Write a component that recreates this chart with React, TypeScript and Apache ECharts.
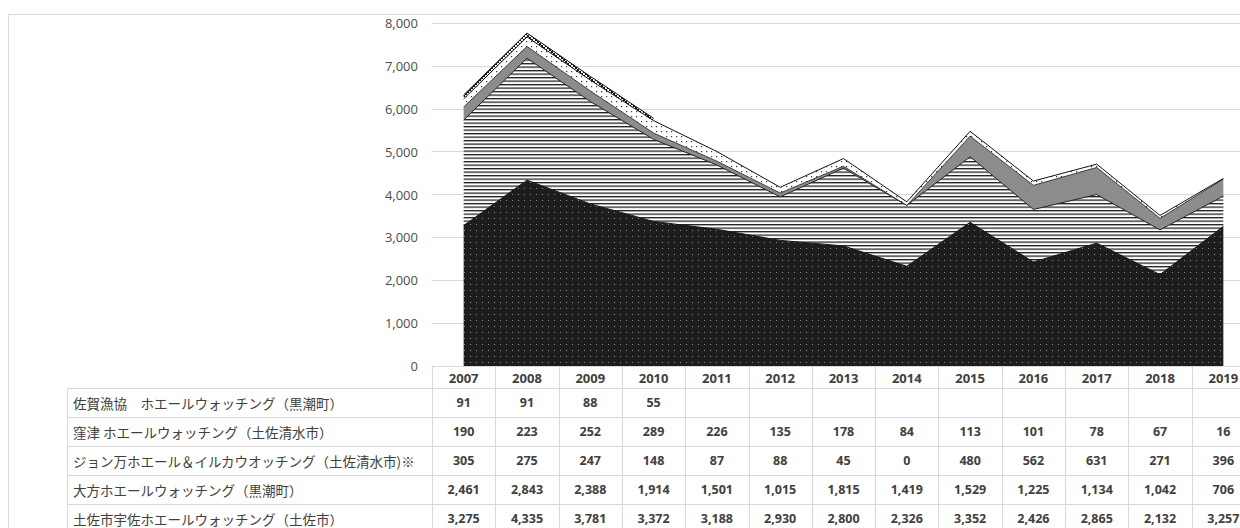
import React, { useEffect, useRef } from "react";
import * as echarts from "echarts";

const years = ["2007", "2008", "2009", "2010", "2011", "2012", "2013", "2014", "2015", "2016", "2017", "2018", "2019"];

const sagaName = "佐賀漁協　ホエールウォッチング（黒潮町）";
const kubotsuName = "窪津 ホエールウォッチング（土佐清水市）";
const johnmanName = "ジョン万ホエール＆イルカウオッチング（土佐清水市)※";
const ogataName = "大方ホエールウォッチング（黒潮町）";
const tosaName = "土佐市宇佐ホエールウォッチング（土佐市）";

const saga: (number | null)[] = [91, 91, 88, 55, null, null, null, null, null, null, null, null, null];
const kubotsu = [190, 223, 252, 289, 226, 135, 178, 84, 113, 101, 78, 67, 16];
const johnman = [305, 275, 247, 148, 87, 88, 45, 0, 480, 562, 631, 271, 396];
const ogata = [2461, 2843, 2388, 1914, 1501, 1015, 1815, 1419, 1529, 1225, 1134, 1042, 706];
const tosa = [3275, 4335, 3781, 3372, 3188, 2930, 2800, 2326, 3352, 2426, 2865, 2132, 3257];

const yTicks = { min: 0, max: 8000, interval: 1000 };

function svgUrl(w: number, h: number, body: string) {
  const s = `<svg xmlns='http://www.w3.org/2000/svg' width='${w}' height='${h}' viewBox='0 0 ${w} ${h}'>${body}</svg>`;
  return "data:image/svg+xml;charset=utf-8," + encodeURIComponent(s);
}

function pattern(w: number, h: number, body: string) {
  return { image: svgUrl(w, h, body), repeat: "repeat", imageWidth: w, imageHeight: h } as any;
}

const dotsDark = pattern(6, 6, "<rect width='6' height='6' fill='#1f1c1d'/><rect x='2' y='2' width='1' height='1' fill='#8f8f8f'/>");
const hLines = pattern(4, 3.5, "<rect width='4' height='3.5' fill='#ffffff'/><rect y='0' width='4' height='1.3' fill='#1e1e1e'/>");
const dotsLight = pattern(5, 5, "<rect width='5' height='5' fill='#ffffff'/><rect x='1' y='1' width='1.2' height='1.2' fill='#333'/>");
const cross = pattern(4, 4, "<rect width='4' height='4' fill='#ffffff'/><path d='M0 0L4 4M4 0L0 4' stroke='#111' stroke-width='1'/>");

const fmt = (v: number | null) => (v == null ? "" : v.toLocaleString("en-US"));

export default function App() {
  const ref = useRef<HTMLDivElement>(null);

  useEffect(() => {
    if (!ref.current) return;
    const chart = echarts.init(ref.current, null, { renderer: "svg" });

    const mk = (name: string, data: (number | null)[], fill: any, stroke: string) => ({
      name,
      type: "line",
      stack: "total",
      data,
      symbol: "none",
      lineStyle: { color: stroke, width: 1 },
      itemStyle: { color: stroke },
      areaStyle: { color: fill, opacity: 1 },
      emphasis: { disabled: true },
    });

    const gridTop = 23;
    const gridBottomY = 366;

    chart.setOption({
      animation: false,
      grid: {
        left: 432,
        top: gridTop,
        width: 823,
        height: gridBottomY - gridTop,
        containLabel: false,
        outerBoundsMode: "none",
      },
      xAxis: {
        type: "category",
        data: years,
        boundaryGap: true,
        axisLine: { show: false },
        axisTick: { show: false },
        axisLabel: { show: false },
        splitLine: { show: false },
      },
      yAxis: {
        type: "value",
        min: yTicks.min,
        max: yTicks.max,
        interval: yTicks.interval,
        axisLine: { show: false },
        axisTick: { show: false },
        axisLabel: {
          margin: 14,
          color: "#4d4d4d",
          fontSize: 13,
          fontFamily: "Open Sans",
          formatter: (v: number) => v.toLocaleString("en-US"),
        },
        splitLine: { lineStyle: { color: "#d9d9d9", width: 1 } },
      },
      series: [
        mk(tosaName, tosa, dotsDark, "#111"),
        mk(ogataName, ogata, hLines, "#222"),
        mk(johnmanName, johnman, "#8c8c8c", "#3a3a3a"),
        mk(kubotsuName, kubotsu, dotsLight, "#111"),
        mk(sagaName, saga, cross, "#111"),
      ],
    });

    const x0 = chart.convertToPixel({ xAxisIndex: 0 }, 0) as number;
    const x1 = chart.convertToPixel({ xAxisIndex: 0 }, 1) as number;
    const bw = x1 - x0;
    const tableLeft = x0 - bw / 2;
    const tableRight = tableLeft + bw * years.length;
    const labelLeft = 67;
    const headerTop = gridBottomY;
    const headerBottom = 388;
    const rowH = 29;
    const rows: [string, (number | null)[]][] = [
      [sagaName, saga],
      [kubotsuName, kubotsu],
      [johnmanName, johnman],
      [ogataName, ogata],
      [tosaName, tosa],
    ];
    const tableBottom = headerBottom + rowH * rows.length;
    const lineStyle = { stroke: "#d9d9d9", lineWidth: 1 };
    const g: any[] = [];

    g.push({
      type: "rect",
      silent: true,
      z: -10,
      shape: { x: 8.5, y: 14.5, width: 1300, height: 600 },
      style: { fill: "none", stroke: "#d9d9d9", lineWidth: 1 },
    });

    g.push({ type: "line", silent: true, shape: { x1: tableLeft, y1: headerTop + 0.5, x2: tableRight, y2: headerTop + 0.5 }, style: lineStyle });
    for (let r = 0; r <= rows.length; r++) {
      const y = Math.round(headerBottom + r * rowH) + 0.5;
      g.push({ type: "line", silent: true, shape: { x1: labelLeft, y1: y, x2: tableRight, y2: y }, style: lineStyle });
    }
    g.push({ type: "line", silent: true, shape: { x1: labelLeft + 0.5, y1: headerBottom, x2: labelLeft + 0.5, y2: tableBottom }, style: lineStyle });
    for (let c = 0; c <= years.length; c++) {
      const x = Math.round(tableLeft + c * bw) + 0.5;
      g.push({ type: "line", silent: true, shape: { x1: x, y1: headerTop, x2: x, y2: tableBottom }, style: lineStyle });
    }
    years.forEach((yr, i) => {
      const cx = chart.convertToPixel({ xAxisIndex: 0 }, i) as number;
      g.push({
        type: "text",
        silent: true,
        style: {
          text: yr,
          x: cx,
          y: (headerTop + headerBottom) / 2 + 1,
          align: "center",
          verticalAlign: "middle",
          fill: "#404040",
          font: 'bold 13px "Open Sans"',
        },
      });
    });
    rows.forEach(([name, vals], r) => {
      const cy = headerBottom + r * rowH + rowH / 2;
      g.push({
        type: "text",
        silent: true,
        style: {
          text: name,
          x: labelLeft + 6,
          y: cy,
          align: "left",
          verticalAlign: "middle",
          fill: "#404040",
          font: '13.5px "Noto Sans CJK JP"',
        },
      });
      vals.forEach((v, i) => {
        const cx = chart.convertToPixel({ xAxisIndex: 0 }, i) as number;
        g.push({
          type: "text",
          silent: true,
          style: {
            text: fmt(v),
            x: cx,
            y: cy,
            align: "center",
            verticalAlign: "middle",
            fill: "#404040",
            font: 'bold 12.5px "Open Sans"',
          },
        });
      });
    });

    chart.setOption({ graphic: g });

    return () => chart.dispose();
  }, []);

  return (
    <div
      ref={ref}
      style={{ position: "fixed", left: 0, top: 0, width: 1240, height: 528, background: "#ffffff" }}
    />
  );
}
